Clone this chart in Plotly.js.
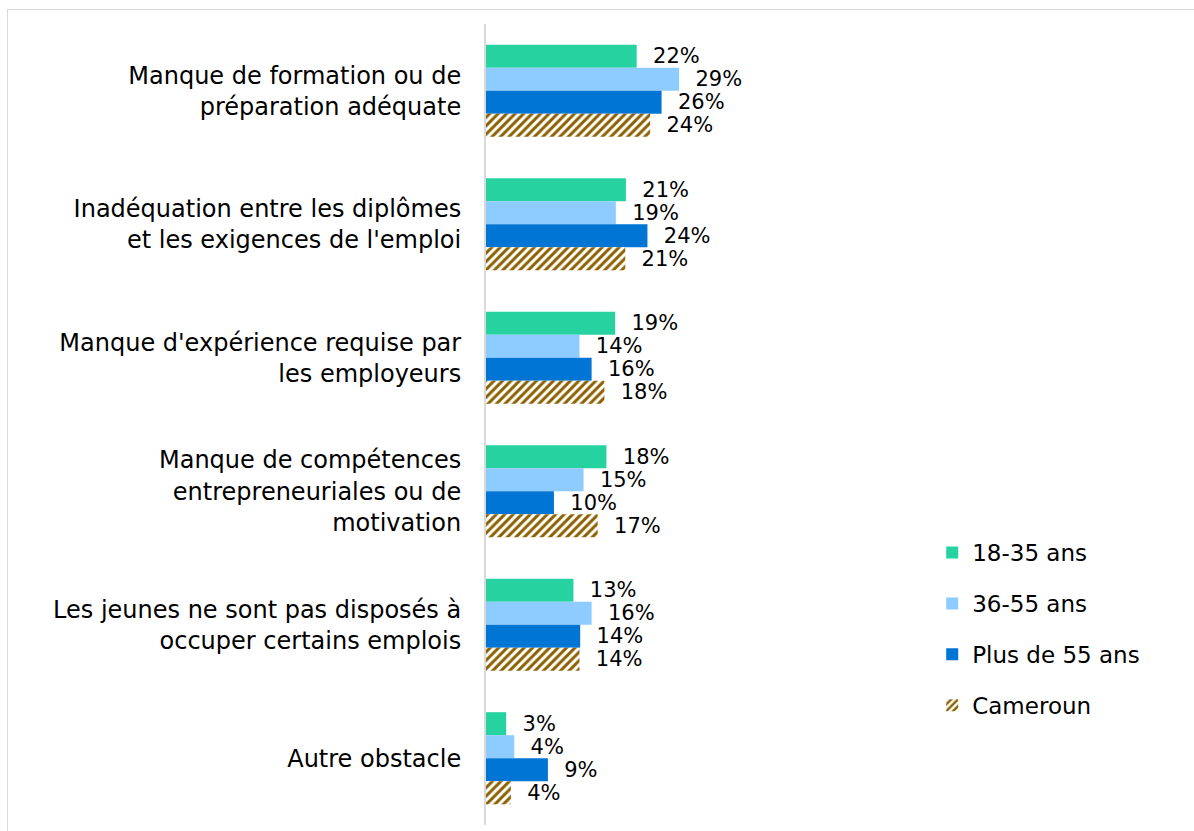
<!DOCTYPE html>
<html>
<head>
<meta charset="utf-8">
<script src="https://cdn.plot.ly/plotly-3.0.1.min.js"></script>
<style>
  html, body { margin: 0; padding: 0; background: #fff; }
  #chart { width: 1194px; height: 831px; }
  #frame { position: absolute; left: 7px; top: 9px; width: 1190px; height: 830px; border: 1px solid #d9d9d9; pointer-events: none; }
</style>
</head>
<body>
<div id="chart"></div>
<div id="frame"></div>
<script>
const categories = [
  "Manque de formation ou de<br>préparation adéquate",
  "Inadéquation entre les diplômes<br>et les exigences de l'emploi",
  "Manque d'expérience requise par<br>les employeurs",
  "Manque de compétences<br>entrepreneuriales ou de<br>motivation",
  "Les jeunes ne sont pas disposés à<br>occuper certains emplois",
  "Autre obstacle"
];
const seriesNames = ["18-35 ans", "36-55 ans", "Plus de 55 ans", "Cameroun"];
const age18_35 = [22.4, 20.8, 19.2, 17.9, 13.0, 3.0];
const age36_55 = [28.7, 19.3, 13.9, 14.5, 15.7, 4.2];
const age55plus = [26.1, 24.0, 15.7, 10.1, 14.0, 9.2];
const cameroun = [24.4, 20.7, 17.6, 16.6, 13.9, 3.7];

const font = "DejaVu Sans, sans-serif";
function mk(name, vals, marker) {
  return {
    type: "bar", orientation: "h", name: name, legendgroup: name,
    y: categories, x: vals,
    marker: marker,
    texttemplate: "\u00a0\u00a0%{x:.0f}%",
    textposition: "outside",
    constraintext: "none",
    cliponaxis: false,
    textfont: { family: font, size: 21, color: "#000" },
    hoverinfo: "skip"
  };
}
const traces = [
  mk(seriesNames[0], age18_35, { color: "#26D3A0" }),
  mk(seriesNames[1], age36_55, { color: "#8ECBFF" }),
  mk(seriesNames[2], age55plus, { color: "#0075D4" }),
  mk(seriesNames[3], cameroun, { color: "#ffffff", pattern: { shape: "/", fgcolor: "#8B6000", bgcolor: "#ffffff", size: 6, solidity: 0.5 } })
];
const layout = {
  width: 1194, height: 831,
  margin: { l: 486, r: 264, t: 24, b: 6 },
  paper_bgcolor: "#fff", plot_bgcolor: "#fff",
  barmode: "group", bargap: 0.31, bargroupgap: 0,
  font: { family: font, size: 22, color: "#000" },
  xaxis: { range: [0, 66], visible: false, showgrid: false, zeroline: false, fixedrange: true },
  yaxis: {
    autorange: "reversed", showline: true, linecolor: "#d9d9d9", linewidth: 2,
    ticks: "", showgrid: false, ticklabelstandoff: 18,
    tickfont: { family: font, size: 24, color: "#000" }
  },
  showlegend: true,
  legend: {
    x: 1.005, xanchor: "left", y: 0.367, yanchor: "top",
    traceorder: "grouped", tracegroupgap: 18,
    font: { family: font, size: 23, color: "#000" },
    bgcolor: "rgba(0,0,0,0)"
  }
};
Plotly.newPlot("chart", traces, layout, { staticPlot: true, displayModeBar: false });
</script>
</body>
</html>
